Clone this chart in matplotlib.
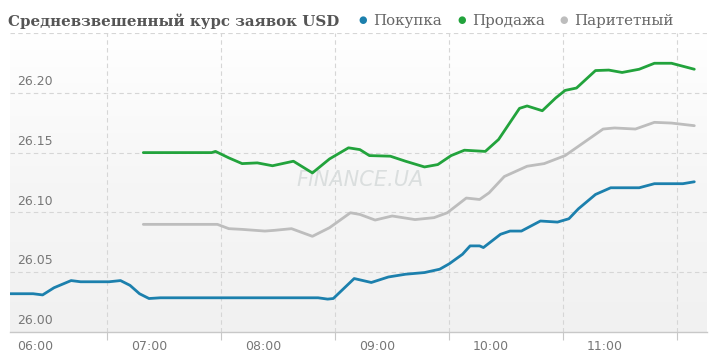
import numpy as np
import matplotlib
matplotlib.use("Agg")
import matplotlib.pyplot as plt
import matplotlib.transforms as mtransforms
from matplotlib.colors import LinearSegmentedColormap

# ---- data ----
buy_times = ["05:47", "05:59", "06:04", "06:10", "06:19", "06:24", "06:39", "06:45", "06:50", "06:55",
             "07:00", "07:06", "08:29", "08:34", "08:37", "08:48", "08:57", "09:06", "09:15", "09:25",
             "09:33", "09:38", "09:45", "09:49", "09:54", "09:56", "10:05", "10:10", "10:16", "10:26",
             "10:35", "10:41", "10:46", "10:55", "11:03", "11:18", "11:26", "11:41", "11:47"]
buy_vals = [26.032, 26.032, 26.031, 26.037, 26.043, 26.042, 26.042, 26.043, 26.039, 26.032,
            26.028, 26.0286, 26.0286, 26.0275, 26.028, 26.0447, 26.0414, 26.046, 26.0483, 26.0497,
            26.0525, 26.057, 26.065, 26.072, 26.072, 26.0706, 26.0817, 26.0844, 26.0844, 26.0928,
            26.0919, 26.0947, 26.103, 26.115, 26.1206, 26.1206, 26.124, 26.124, 26.1256]

sell_times = ["06:57", "07:33", "07:35", "07:42", "07:49", "07:57", "08:05", "08:16", "08:26", "08:35",
              "08:45", "08:51", "08:56", "09:07", "09:15", "09:25", "09:32", "09:39", "09:46", "09:57",
              "10:04", "10:15", "10:19", "10:27", "10:34", "10:39", "10:45", "10:55", "11:02", "11:09",
              "11:18", "11:26", "11:35", "11:47"]
sell_vals = [26.150, 26.150, 26.151, 26.1456, 26.1408, 26.1414, 26.139, 26.1428, 26.133, 26.1447,
             26.154, 26.1525, 26.1475, 26.147, 26.1428, 26.138, 26.140, 26.1475, 26.152, 26.151,
             26.161, 26.187, 26.189, 26.185, 26.1956, 26.202, 26.204, 26.2186, 26.219, 26.217,
             26.2197, 26.2247, 26.2247, 26.2197]

par_times = ["06:57", "07:36", "07:42", "07:49", "08:01", "08:06", "08:15", "08:26", "08:35", "08:46",
             "08:51", "08:59", "09:08", "09:20", "09:30", "09:37", "09:47", "09:54", "09:59", "10:07",
             "10:19", "10:28", "10:39", "10:49", "10:59", "11:05", "11:16", "11:26", "11:35", "11:47"]
par_vals = [26.090, 26.090, 26.0864, 26.0858, 26.0844, 26.085, 26.0864, 26.080, 26.0872, 26.0997,
            26.0983, 26.0936, 26.097, 26.094, 26.0956, 26.0997, 26.112, 26.1108, 26.1164, 26.130,
            26.1386, 26.1408, 26.1475, 26.1586, 26.1697, 26.1706, 26.1697, 26.1753, 26.1747, 26.1725]

x_tick_labels = ["06:00", "07:00", "08:00", "09:00", "10:00", "11:00"]
y_ticks = [26.00, 26.05, 26.10, 26.15, 26.20, 26.25]
y_tick_labels = ["26.00", "26.05", "26.10", "26.15", "26.20", ""]

title = "Средневзвешенный курс заявок USD"
series_names = ["Покупка", "Продажа", "Паритетный"]
colors = ["#1c80ad", "#22a33c", "#bdbdbd"]


def to_h(t):
    h, m = t.split(":")
    return int(h) + int(m) / 60.0


W, H = 720, 362
fig = plt.figure(figsize=(W / 100, H / 100), dpi=100)
ax = fig.add_axes([10 / W, (H - 332) / H, (707 - 10) / W, (332 - 33) / H])

xmin, xmax = 6 - 25 / 114, 6 + 672 / 114
ymin, ymax = 26.0, 26.25
ax.set_xlim(xmin, xmax)
ax.set_ylim(ymin, ymax)

# gradient background
grad = np.linspace(0, 1, 256).reshape(-1, 1)
cmap = LinearSegmentedColormap.from_list("bg", ["#f1f1f1", "#f6f6f6", "#ffffff"])
ax.imshow(grad, cmap=cmap, aspect="auto", extent=[xmin, xmax, ymin, ymax],
          origin="lower", zorder=0)

# grids
for yv in y_ticks[1:]:
    ax.axhline(yv, color="#d6d6d6", lw=0.8, ls=(0, (4, 3)), zorder=1)
grid_x = [to_h(x) + 38 / 60 for x in x_tick_labels]
for gx in grid_x:
    ax.axvline(gx, color="#d6d6d6", lw=0.8, ls=(0, (4, 3)), zorder=1)

# series
series = [(buy_times, buy_vals), (sell_times, sell_vals), (par_times, par_vals)]
for (ts, vs), c in zip(series, colors):
    ax.plot([to_h(t) for t in ts], vs, color=c, lw=2.0, solid_joinstyle="round",
            solid_capstyle="round", zorder=3)

# watermark
ax.text(6 + (360 - 35) / 114, 26.20 + (93 - 180) / 1200, "FiNANCE.UA",
        fontsize=15, style="italic", color="#dadede", ha="center", va="center",
        family="DejaVu Sans", zorder=2)

# axes styling
for s in ["top", "right", "left"]:
    ax.spines[s].set_visible(False)
ax.spines["bottom"].set_color("#c8c8c8")
ax.spines["bottom"].set_linewidth(1.0)
ax.set_yticks([])
ax.set_xticks(grid_x)
ax.set_xticklabels([])
ax.tick_params(axis="x", length=6, color="#c8c8c8", width=0.8)

# x labels
off = mtransforms.ScaledTranslation(0, -6 / 72, fig.dpi_scale_trans)
for lab in x_tick_labels:
    ax.text(to_h(lab), ymin, lab, transform=ax.transData + off, ha="center", va="top",
            fontsize=9, color="#777777")

# y labels inside
for yv, lab in zip(y_ticks, y_tick_labels):
    if lab:
        ax.text(6 - 18 / 114, yv + 0.004, lab, ha="left", va="bottom",
                fontsize=9, color="#777777", zorder=4)

# title + legend
fig.text(8 / W, 1 - 21 / H, title, fontsize=10.8, fontweight="bold",
         family="DejaVu Serif", color="#555555", va="center", ha="left")
leg_x = [363, 462, 564]
for lx, name, c in zip(leg_x, series_names, colors):
    fig.text(lx / W, 1 - 20 / H, "●", fontsize=7, color=c, ha="center", va="center")
    fig.text((lx + 10) / W, 1 - 21 / H, name, fontsize=10.8, family="DejaVu Serif",
             color="#666666", va="center", ha="left")

fig.savefig("out.png", dpi=100, facecolor="white")
